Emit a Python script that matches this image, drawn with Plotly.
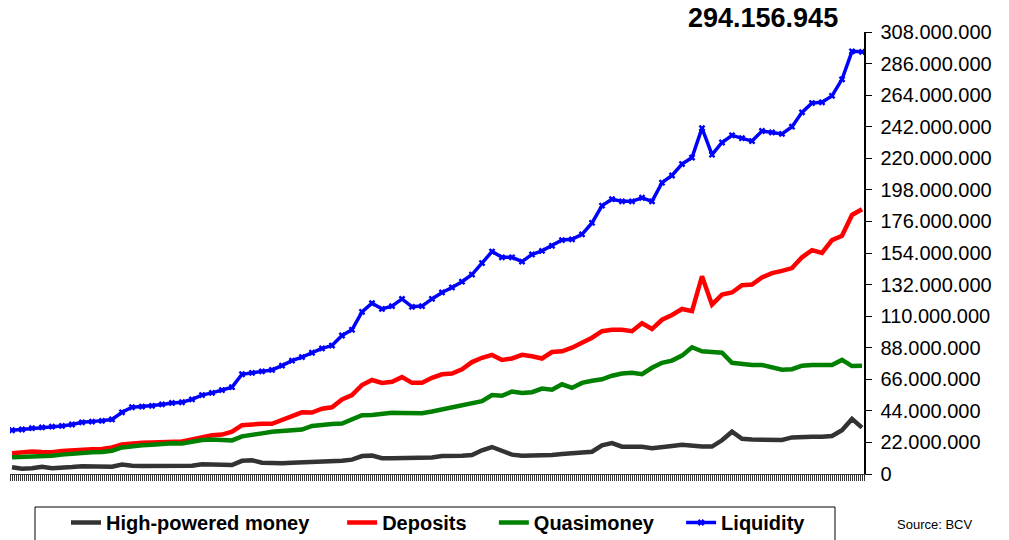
import plotly.graph_objects as go

# Values in millions, sampled left to right across the chart
high_powered = [4.7, 3.6, 4.0, 5.0, 4.0, 4.2, 4.8, 5.4, 5.5, 5.2,
                5.1, 6.6, 5.7, 5.6, 5.6, 5.6, 5.6, 5.6, 5.8, 6.8,
                6.8, 6.4, 6.3, 9.2, 9.6, 7.9, 7.5, 7.5, 7.8, 8.0,
                8.5, 9.1, 9.2, 9.3, 10.0, 12.5, 12.8, 11.0, 11.0, 11.0,
                11.0, 11.0, 11.5, 12.5, 12.3, 12.8, 13.2, 16.5, 18.8, 16.0,
                13.5, 12.8, 12.8, 12.8, 13.3, 14.0, 14.4, 15.0, 15.5, 20.0,
                21.5, 19.0, 19.0, 19.0, 18.0, 18.5, 19.5, 20.3, 19.5, 19.1,
                19.1, 23.5, 29.5, 24.5, 24.0, 23.7, 23.7, 23.7, 25.5, 26.0,
                26.0, 26.0, 26.5, 30.5, 38.4, 32.3]

deposits = [14.4, 15.0, 15.6, 15.3, 15.2, 16.0, 16.6, 17.2, 17.3, 17.5,
            18.5, 20.5, 21.5, 21.8, 22.0, 22.4, 22.6, 22.6, 24.0, 25.5,
            27.0, 27.5, 29.5, 34.0, 34.8, 35.0, 35.0, 37.5, 40.5, 43.0,
            42.8, 45.5, 46.5, 52.0, 55.0, 62.0, 65.5, 63.5, 64.3, 67.5,
            63.5, 63.5, 67.0, 69.5, 70.0, 73.0, 78.0, 81.0, 83.0, 79.5,
            80.5, 83.0, 82.0, 80.5, 85.0, 85.5, 88.0, 91.5, 95.0, 99.5,
            100.5, 100.5, 99.5, 105.0, 101.0, 107.5, 110.8, 115.0, 113.5, 137.8,
            118.0, 125.0, 126.5, 131.5, 132.0, 137.0, 140.0, 141.5, 143.5, 151.0,
            156.0, 154.0, 163.0, 166.0, 180.5, 184.5]

quasimoney = [11.6, 11.8, 12.0, 12.4, 12.8, 13.5, 14.2, 14.9, 15.2, 15.4,
              16.2, 18.5, 19.4, 20.0, 20.4, 21.0, 21.4, 21.2, 22.5, 23.7,
              24.0, 23.8, 23.4, 26.2, 27.0, 28.3, 29.4, 30.0, 30.5, 31.0,
              33.5, 34.5, 34.8, 35.2, 38.5, 41.0, 41.2, 42.0, 42.6, 42.5,
              42.4, 42.4, 43.5, 45.0, 46.2, 48.0, 49.5, 50.8, 55.0, 54.5,
              57.5, 56.5, 57.0, 59.5, 58.8, 62.5, 60.0, 63.5, 65.0, 66.0,
              68.5, 70.0, 70.6, 69.6, 74.0, 77.5, 79.0, 82.5, 88.3, 85.5,
              85.0, 84.5, 77.5, 76.5, 76.0, 76.0, 74.0, 72.6, 73.0, 75.5,
              76.0, 76.0, 76.0, 79.5, 75.2, 75.4]

liquidity = [30.5, 31.0, 32.0, 32.5, 33.0, 33.5, 34.5, 36.0, 36.5, 37.0,
             38.0, 43.0, 46.5, 47.0, 47.5, 48.5, 49.5, 50.0, 52.0, 55.0,
             56.5, 58.5, 60.5, 69.5, 70.5, 71.5, 72.5, 75.5, 79.0, 81.5,
             84.5, 87.5, 89.5, 96.5, 100.5, 113.0, 119.0, 115.0, 117.0, 122.0,
             116.5, 117.0, 122.0, 126.5, 130.0, 134.0, 139.0, 147.0, 155.0, 151.0,
             151.0, 148.0, 153.0, 155.5, 159.0, 163.0, 163.5, 167.0, 175.0, 187.0,
             191.5, 190.0, 190.0, 192.5, 190.0, 203.0, 208.0, 216.0, 220.5, 241.0,
             222.5, 231.0, 236.0, 234.0, 232.0, 239.0, 238.0, 237.0, 242.0, 252.0,
             258.5, 259.0, 263.5, 275.0, 294.5, 294.156945]

series_names = ["High-powered money", "Deposits", "Quasimoney", "Liquidity"]
series_colors = ["#333333", "#FF0000", "#008000", "#0000FF"]
legend_pad = [5, 4, 4, 0]

y_tickvals = [i * 22_000_000 for i in range(15)]
y_ticktext = ["0"] + [f"{v:,}".replace(",", ".") for v in y_tickvals[1:]]

last_value_label = "294.156.945"
source_label = "Source: BCV"

FONT = "Liberation Sans, Arial, sans-serif"

fig = go.Figure()
all_series = [high_powered, deposits, quasimoney, liquidity]
for name, vals, color, pad in zip(series_names, all_series, series_colors, legend_pad):
    x = list(range(len(vals)))
    y = [v * 1_000_000 for v in vals]
    label = name + "\u00a0" * pad
    if name == "Liquidity":
        fig.add_trace(go.Scatter(
            x=x, y=y, name=label, mode="lines+markers",
            line=dict(color=color, width=3.5),
            marker=dict(symbol="x", size=6, color=color),
        ))
    else:
        fig.add_trace(go.Scatter(
            x=x, y=y, name=label, mode="lines",
            line=dict(color=color, width=4.5),
        ))

n = len(liquidity)
fig.update_layout(
    width=1009, height=540, autosize=False,
    margin=dict(l=10, r=145, t=32, b=66, pad=0, autoexpand=False),
    paper_bgcolor="white", plot_bgcolor="white",
    font=dict(family=FONT, color="black"),
    showlegend=True,
    legend=dict(
        orientation="h", x=(66 - 10) / 854, xanchor="left",
        y=-(503 - 474) / 442, yanchor="top",
        borderwidth=0, bgcolor="rgba(0,0,0,0)",
        font=dict(family=FONT, size=20, color="black", weight="bold"),
        itemwidth=30, traceorder="normal",
    ),
    xaxis=dict(
        range=[-0.2, n - 1 + 0.2], showgrid=False, zeroline=False,
        showline=True, linecolor="#333333", linewidth=1,
        ticks="outside", ticklen=6, tickcolor="#333333", tickwidth=1,
        tickmode="linear", tick0=0, dtick=0.2, showticklabels=False,
    ),
    yaxis=dict(
        side="right", range=[0, 308_000_000], showgrid=False, zeroline=False,
        showline=True, linecolor="black", linewidth=1.5,
        ticks="outside", ticklen=6, tickcolor="black",
        tickmode="array", tickvals=y_tickvals, ticktext=y_ticktext,
        tickfont=dict(family=FONT, size=20, color="black"),
        ticklabelstandoff=5,
    ),
)

# legend frame (runs off the bottom edge as in the original)
fig.add_shape(
    type="rect", xref="paper", yref="paper",
    x0=(35 - 10) / 854, x1=(835 - 10) / 854,
    y0=-(507 - 474) / 442, y1=-(600 - 474) / 442,
    line=dict(color="black", width=1), fillcolor="rgba(0,0,0,0)",
)

fig.add_annotation(
    text=last_value_label, xref="paper", yref="paper",
    x=(763 - 10) / 854, y=(474 - 18) / 442, xanchor="center", yanchor="middle",
    showarrow=False,
    font=dict(family=FONT, size=27, color="black", weight="bold"),
)
fig.add_annotation(
    text=source_label, xref="paper", yref="paper",
    x=(895 - 10) / 854, y=-(524 - 474) / 442, xanchor="left", yanchor="middle",
    showarrow=False,
    font=dict(family=FONT, size=13, color="black"),
)

fig.write_html(
    "out.html",
    config={"displayModeBar": False, "staticPlot": True},
    post_script="document.body.style.margin='0';document.body.style.overflow='hidden';",
)
